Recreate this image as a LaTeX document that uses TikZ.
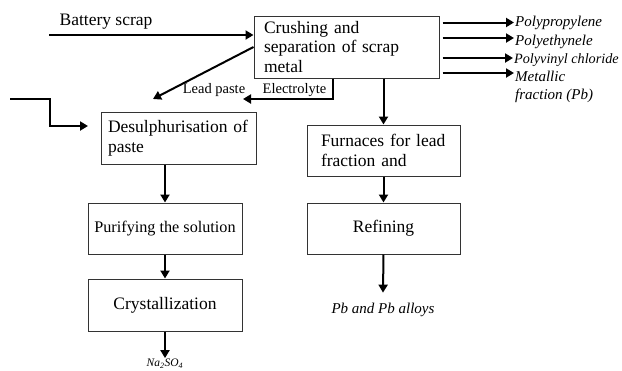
\documentclass[tikz,border=0pt]{standalone}
\usepackage{fontspec}
\setmainfont{Liberation Serif}
\usetikzlibrary{arrows.meta}

\begin{document}
\begin{tikzpicture}[x=1pt,y=-1pt,
  box/.style={draw=black!80,line width=1pt,inner ysep=2pt,font=\fontsize{17.5}{19.5}\selectfont},
  arr/.style={line width=2pt,-{Triangle[length=8pt,width=9pt]}},
  lbl/.style={font=\fontsize{14.5}{16}\selectfont,inner sep=1pt},
  outp/.style={font=\fontsize{15}{18}\selectfont\itshape,inner sep=1pt,anchor=west,align=left}]

\useasboundingbox (0,0) rectangle (622,370);

\node[box,text width=165pt,inner xsep=10pt,minimum height=62pt,align=left] (crush) at (346.5,47)
  {Crushing and\\separation of scrap\\metal};
\node[font=\fontsize{17.5}{19.5}\selectfont] (bscrap) at (106,22) {Battery scrap};
\coordinate (bs) at (49,35);
\draw[arr] (bs) -- (bs -| crush.west);


%%%%%%%%%%%%%%%%%%%%%%%%%%%%%%%%%%%%%%
\node[box,text width=141pt,inner xsep=7pt,minimum height=52pt,align=left] (desulph) at (178.5,138)
  {Desulphurisation of\\paste};
\node[box,minimum width=154pt,minimum height=51pt,font=\fontsize{16.2}{19}\selectfont] (purify) at (165,228.5)
  {Purifying the solution};
\node[box,minimum width=154pt,minimum height=52pt] (cryst) at (165,305) {Crystallization};
\node[font=\fontsize{11.5}{13}\selectfont\itshape,inner sep=1pt] (na) at (165,364)
  {Na\textsubscript{2}SO\textsubscript{4}};

\node[lbl] (lpaste) at (214,90) {Lead paste};
\node[lbl] (elyte) at (294.5,90) {Electrolyte};
\coordinate (lp) at (153,99);
\coordinate (el) at (243,99);
\coordinate (elc) at (333,99);
\draw[arr] (crush.west) -- (lp);
\draw[arr] (elc |- crush.south) -- (elc) -- (el);

\coordinate (feed) at (10,99);
\coordinate (fd) at (50,99);
\coordinate (fe) at (88,126);
\draw[arr] (feed) -- (fd) |- (fe);

\draw[arr] (purify.north |- desulph.south) -- (purify.north);
\draw[arr] (purify.south) -- (cryst.north);
\draw[arr] (cryst.south) -- (na.north);


%%%%%%%%%%%%%%%%%%%%%%%%%%%%%%%%%%%%%%
\node[box,text width=125pt,inner xsep=14pt,minimum height=51pt,align=left] (furnace) at (383.5,150.5)
  {Furnaces for lead\\fraction and};
\node[box,minimum width=153pt,minimum height=51pt] (refine) at (383.5,228.5) {Refining};
\node[font=\fontsize{15}{18}\selectfont\itshape] (pb) at (383,310) {Pb and Pb alloys};

\draw[arr] (furnace.north |- crush.south) -- (furnace.north);
\draw[arr] (furnace.south) -- (refine.north);
\draw[arr] (refine.south) -- ([yshift=7pt]pb.north);


%%%%%%%%%%%%%%%%%%%%%%%%%%%%%%%%%%%%%%
\node[outp] (pp) at (514,22.5) {Polypropylene};
\node[outp] (pe) at (514,41.5) {Polyethynele};
\node[outp,font=\fontsize{14.2}{17}\selectfont\itshape] (pvc) at (513,60.5) {Polyvinyl chloride};
\node[outp] (met) at (514,87) {Metallic\\fraction (Pb)};

\coordinate (rx) at ([xshift=3pt]crush.east);
\draw[arr] (rx |- pp.west) -- (pp.west);
\draw[arr] ([yshift=3.5pt]rx |- pe.west) -- ([yshift=3.5pt]pe.west);
\draw[arr] ([yshift=2.5pt]rx |- pvc.west) -- ([yshift=2.5pt]pvc.west);
\draw[arr] ([yshift=14pt]rx |- met.west) -- ([yshift=14pt]met.west);

\end{tikzpicture}
\end{document}
